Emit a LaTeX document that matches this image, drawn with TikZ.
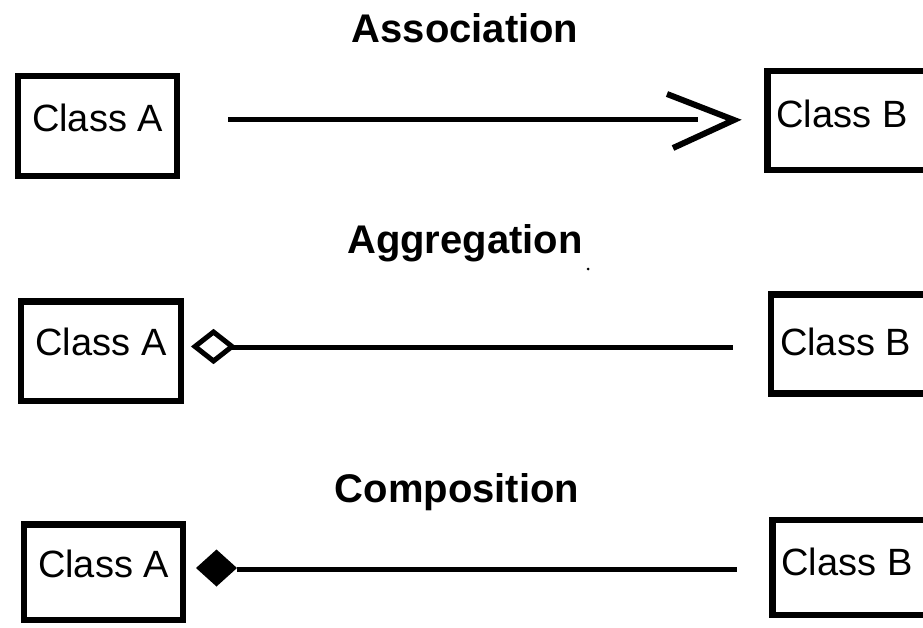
\documentclass[tikz,border=0pt]{standalone}
\usepackage{fontspec}
\newfontfamily\arialf{Liberation Sans}
\usetikzlibrary{calc}
\tikzset{
  cls/.style={draw, line width=6.5pt, inner sep=0pt, outer sep=0pt, anchor=north west,
    font=\arialf\fontsize{38pt}{40pt}\selectfont},
  clsB/.style={cls, inner xsep=9pt},
  ttl/.style={anchor=base, inner sep=0pt, font=\arialf\bfseries\fontsize{40pt}{42pt}\selectfont},
  conn/.style={line width=5pt},
  barb/.style={line width=6pt, line join=miter, line cap=butt},
  odiam/.style={line width=5pt, line join=miter},
  fdiam/.style={fill=black}
}
\begin{document}
\begin{tikzpicture}[x=1pt, y=-1pt]
\useasboundingbox (0,0) rectangle (923,627);
\clip (0,0) rectangle (923,627);
% titles
\node[ttl] (t1) at (465,42) {Association};
\node[ttl] (t2) at (465,253) {Aggregation};
\node[ttl] (t3) at (457,502) {Composition};
\fill (588,269) circle (1.5pt);
% row 1
\node[cls, minimum width=159pt, text height=55pt, text depth=45pt] (A1) at (18,76) {Class A};
\node[clsB, text height=56pt, text depth=43pt] (B1) at (767.5,71) {\makebox[190pt][l]{Class B}};
\coordinate (c1s) at ($(A1.east |- B1.west)+(51,-1)$);
\coordinate (c1e) at ($(B1.west)+(-69.5,-1)$);
\draw[conn] (c1s) -- (c1e);
\draw[barb] ($(B1.west)+(-100.5,-26.5)$) -- ($(B1.west)+(-33.5,-0.5)$) -- ($(B1.west)+(-94.5,27.5)$);
% row 2
\node[cls, minimum width=160pt, text height=53.5pt, text depth=46pt] (A2) at (21,301.5) {Class A};
\node[clsB, text height=60.5pt, text depth=38.5pt] (B2) at (771,294.5) {\makebox[190pt][l]{Class B}};
\coordinate (c2s) at ($(A2.east |- B2.west)+(51,3)$);
\coordinate (c2e) at ($(B2.west)+(-38,3)$);
\draw[conn] (c2s) -- (c2e);
\draw[odiam] ($(c2s)+(0,-0.5)$) -- ++(-18.5,-14.5) -- ++(-18.5,14.5) -- ++(18.5,14.5) -- cycle;
% row 3
\node[cls, minimum width=159pt, text height=52.5pt, text depth=43pt] (A3) at (24,524.5) {Class A};
\node[clsB, text height=55pt, text depth=40pt] (B3) at (772.5,520) {\makebox[190pt][l]{Class B}};
\coordinate (c3s) at ($(A3.east |- B3.west)+(54,1.5)$);
\coordinate (c3e) at ($(B3.west)+(-35.5,1.5)$);
\draw[conn] (c3s) -- (c3e);
\fill[fdiam] ($(c3s)+(0,-1)$) -- ++(-20.5,-18.5) -- ++(-20.5,18.5) -- ++(20.5,18.5) -- cycle;
\end{tikzpicture}
\end{document}
